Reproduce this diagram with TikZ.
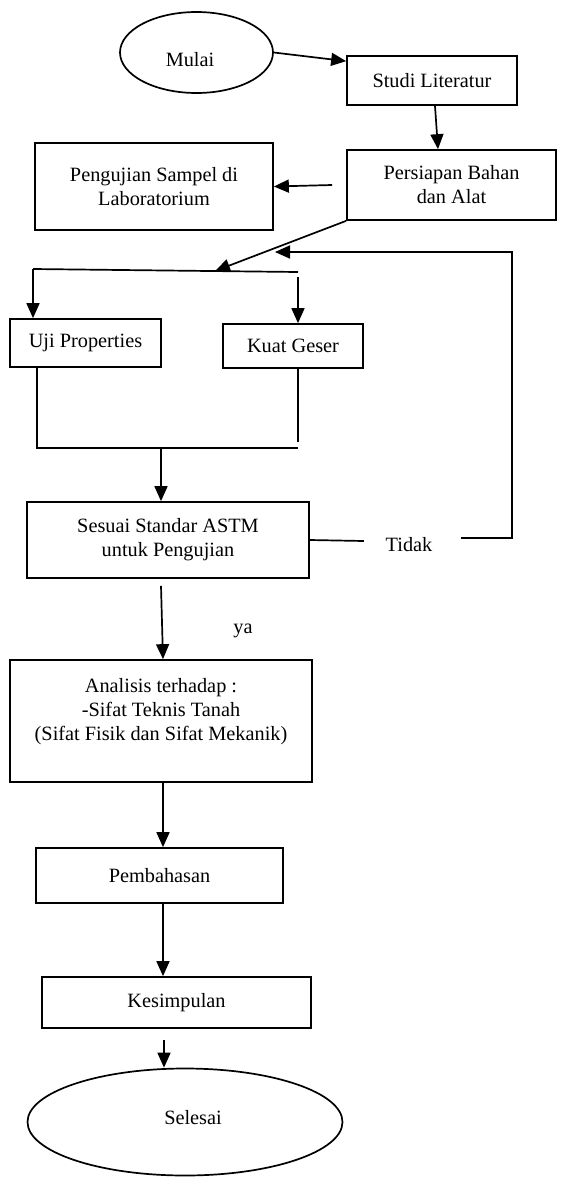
\documentclass[tikz,border=0pt]{standalone}
\usepackage{fontspec}
\setmainfont{Liberation Serif}
\usetikzlibrary{shapes.geometric,arrows.meta,calc}
\tikzset{
  ln/.style={line width=1.7pt},
  arr/.style={ln,-{Triangle[length=15pt,width=13pt]}},
  box/.style={draw,ln,rectangle,inner sep=0pt,align=center,font=\fontsize{20.3}{24}\selectfont},
  term/.style={draw,ln,ellipse,inner sep=0pt,font=\fontsize{20.3}{24}\selectfont},
  lbl/.style={inner sep=0pt,font=\fontsize{20.3}{24}\selectfont}
}
\begin{document}
\begin{tikzpicture}[x=1pt,y=-1pt]
\useasboundingbox (0,0) rectangle (560,1184);
\node[term,minimum width=153pt,minimum height=81pt,text height=27pt,text depth=0pt] (mulai) at (196.5,52.5) {Mulai\hspace*{13pt}};
\node[box,minimum width=170pt,minimum height=49pt] (studi) at (432,80.5) {Studi Literatur};
\node[box,minimum width=209pt,minimum height=70pt] (persiapan) at (451.5,185) {Persiapan Bahan\\dan Alat};
\node[box,minimum width=238pt,minimum height=87pt] (pengujian) at (154,186.5) {Pengujian Sampel di\\Laboratorium};
\node[box,minimum width=151pt,minimum height=48pt] (uji) at (85.5,343) {Uji Properties};
\node[box,minimum width=140pt,minimum height=44pt] (kuat) at (293,346) {Kuat Geser};
\node[box,minimum width=282pt,minimum height=76pt] (sesuai) at (168,540) {Sesuai Standar ASTM\\untuk Pengujian};
\node[box,minimum width=302pt,minimum height=122pt] (analisis) at (161,721) {Analisis terhadap :\\-Sifat Teknis Tanah\\(Sifat Fisik dan Sifat Mekanik)\\ };
\node[box,minimum width=247pt,minimum height=55pt] (pembahasan) at (159.5,875.5) {Pembahasan};
\node[box,minimum width=269pt,minimum height=51pt] (kesimpulan) at (176.5,1002.5) {Kesimpulan};
\node[term,minimum width=315pt,minimum height=107pt,text height=13.5pt,text depth=8pt] (selesai) at (185,1122) {\hspace*{16pt}Selesai};
\node[lbl] (tidak) at (409,545) {Tidak};
\node[lbl] (ya) at (243,631) {ya};
% coordinates
\coordinate (tipD) at (215,271);
\coordinate (hl) at (33,269);
\coordinate (hr) at (298,272);
\coordinate (kin) at (298,277);
\coordinate (ml) at (37,448);
\coordinate (mr) at (298,448);
\coordinate (mc) at (161,448);
\coordinate (t1) at (461,538);
\coordinate (t2) at (512,538);
\coordinate (t3) at (512,252);
\coordinate (t4) at (275,252);
% connectors
\draw[arr] (mulai.east) -- ($(studi.north west)+(0,6)$);
\draw[arr] ($(studi.south)+(3,0)$) -- ($(persiapan.north)+(-13.5,0)$);
\draw[arr] ($(persiapan.west)+(-14,0)$) -- (pengujian.east);
\draw[arr] (persiapan.south west) -- (tipD);
\draw[ln] (hl) -- (hr);
\draw[arr] (hl) -- (hl |- uji.north);
\draw[arr] (kin) -- (kin |- kuat.north);
\draw[ln] (ml |- uji.south) -- (ml) -- (mr);
\draw[ln] (mr |- kuat.south) -- ($(mr)+(0,-6)$);
\draw[arr] (mc) -- (mc |- sesuai.north);
\draw[ln] (sesuai.east) -- ($(sesuai.east)+(54,1)$);
\draw[arr] (t1) -- (t2) -- (t3) -- (t4);
\draw[arr] ($(sesuai.south)+(-7,7)$) -- ($(analisis.north)+(2,0)$);
\draw[arr] ($(analisis.south)+(2,0)$) -- ($(pembahasan.north)+(3.5,0)$);
\draw[arr] ($(pembahasan.south)+(3.5,0)$) -- ($(kesimpulan.north)+(-13.5,0)$);
\draw[arr] ($(kesimpulan.south)+(-12.5,11)$) -- ($(selesai.north)+(-21,0)$);
\end{tikzpicture}
\end{document}
